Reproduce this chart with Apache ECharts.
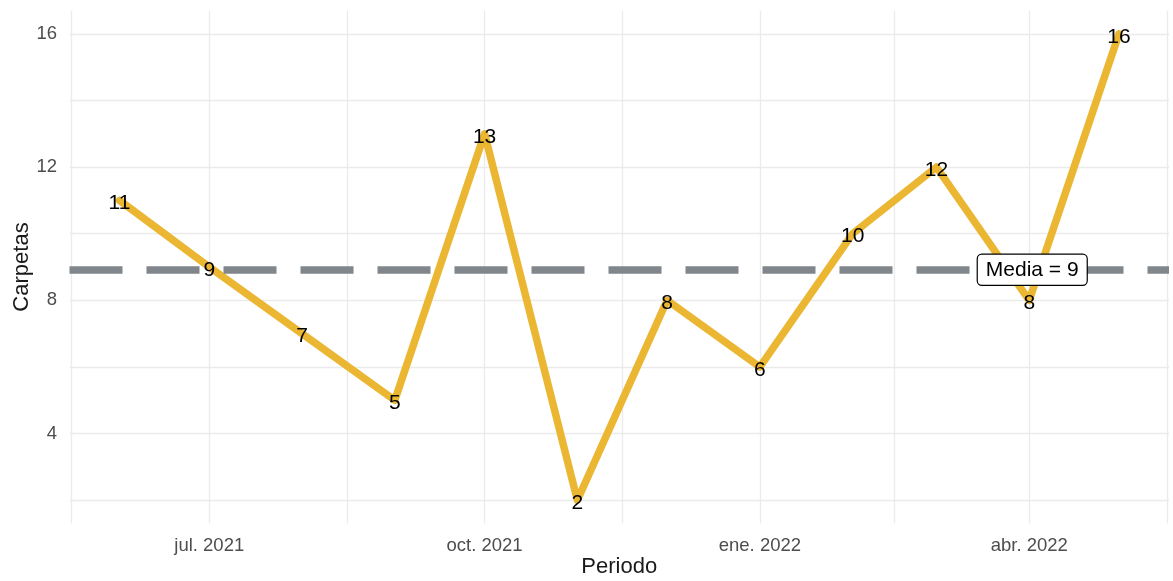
<!DOCTYPE html>
<html>
<head>
<meta charset="utf-8">
<script src="https://cdn.jsdelivr.net/npm/echarts@6/dist/echarts.min.js"></script>
<style>html,body{margin:0;padding:0;background:#fff}#c{width:1173px;height:581px}</style>
</head>
<body>
<div id="c"></div>
<script>
// ---- data ----
const periods = ['2021-06-01','2021-07-01','2021-08-01','2021-09-01','2021-10-01','2021-11-01',
                 '2021-12-01','2022-01-01','2022-02-01','2022-03-01','2022-04-01','2022-05-01'];
const carpetas = [11, 9, 7, 5, 13, 2, 8, 6, 10, 12, 8, 16];
const xTickDates = ['2021-07-01','2021-10-01','2022-01-01','2022-04-01'];
const xTickLabels = ['jul. 2021','oct. 2021','ene. 2022','abr. 2022'];
const xMinorDates = ['2021-05-16','2021-08-16','2021-11-16','2022-02-15','2022-05-17'];
const yTicks = [4, 8, 12, 16];
const yMinorTicks = [2, 6, 10, 14];
const meanLabelDate = '2022-04-02';

// ---- helpers ----
function ts(s){ const p = s.split('-').map(Number); return Date.UTC(p[0], p[1]-1, p[2], p[3]||0); }
const xs = periods.map(ts);
const mean = carpetas.reduce((a,b)=>a+b,0) / carpetas.length;
const xSpan = xs[xs.length-1] - xs[0];
const xMin = xs[0] - 0.05 * xSpan, xMax = xs[xs.length-1] + 0.05 * xSpan;
const yLo = Math.min(...carpetas), yHi = Math.max(...carpetas);
const yMin = yLo - 0.05*(yHi-yLo), yMax = yHi + 0.05*(yHi-yLo);
const xTickTs = xTickDates.map(ts);
const FONT = '"Liberation Sans", Arial, sans-serif';
const GRID = '#EBEBEB';

const chart = echarts.init(document.getElementById('c'), null, {renderer:'canvas'});
chart.setOption({
  animation: false,
  backgroundColor: '#ffffff',
  textStyle: { fontFamily: FONT },
  grid: { left: 69.5, right: 4, top: 10.5, bottom: 57.5, containLabel: false, outerBoundsMode: 'none' },
  xAxis: {
    type: 'value', min: xMin, max: xMax,
    name: 'Periodo', nameLocation: 'middle', nameGap: 32, nameMoveOverlap: false,
    nameTextStyle: { fontSize: 22, color: '#1a1a1a', fontFamily: FONT },
    axisLine: { show: false },
    axisTick: { show: false, customValues: xTickTs.concat(xMinorDates.map(ts)) },
    axisLabel: {
      customValues: xTickTs, margin: 13, fontSize: 18.5, color: '#4D4D4D', fontFamily: FONT,
      formatter: function(v){
        for (let i=0;i<xTickTs.length;i++) if (Math.abs(xTickTs[i]-v) < 1e5) return xTickLabels[i];
        return '';
      }
    },
    splitLine: { show: true, lineStyle: { color: GRID, width: 1.3 } }
  },
  yAxis: {
    type: 'value', min: yMin, max: yMax,
    name: 'Carpetas', nameLocation: 'middle', nameGap: 37, nameRotate: 90, nameMoveOverlap: false,
    nameTextStyle: { fontSize: 22, color: '#1a1a1a', fontFamily: FONT },
    axisLine: { show: false },
    axisTick: { show: false, customValues: yTicks.concat(yMinorTicks) },
    axisLabel: { customValues: yTicks, margin: 12.5, fontSize: 18.5, color: '#4D4D4D', fontFamily: FONT },
    splitLine: { show: true, lineStyle: { color: GRID, width: 1.3 } }
  },
  series: [
    {
      type: 'line', z: 1, data: [], silent: true,
      markLine: {
        silent: true, symbol: ['none','none'],
        label: { show: false },
        lineStyle: { color: '#80868B', width: 7.5, type: [53, 24], cap: 'butt' },
        data: [ { yAxis: mean } ]
      }
    },
    {
      type: 'line', z: 3,
      data: xs.map((x,i)=>[x, carpetas[i]]),
      lineStyle: { color: '#EBB733', width: 7.5, cap: 'round', join: 'round' },
      itemStyle: { color: '#EBB733' },
      symbol: 'circle', symbolSize: 1, showSymbol: true,
      label: { show: true, position: 'inside', offset: [0, 3], color: '#000', fontSize: 21, fontFamily: FONT,
               formatter: p => String(p.value[1]) },
      markPoint: {
        silent: true, symbol: 'rect', symbolSize: [1,1],
        itemStyle: { color: 'rgba(0,0,0,0)' },
        label: {
          show: true, position: 'inside', formatter: 'Media = ' + Math.round(mean),
          color: '#000', fontSize: 21, fontFamily: FONT,
          backgroundColor: '#fff', borderColor: '#000', borderWidth: 1.2, borderRadius: 4,
          padding: [5, 8, 4, 8]
        },
        data: [ { coord: [ts(meanLabelDate), mean] } ]
      }
    }
  ]
});
</script>
</body>
</html>
